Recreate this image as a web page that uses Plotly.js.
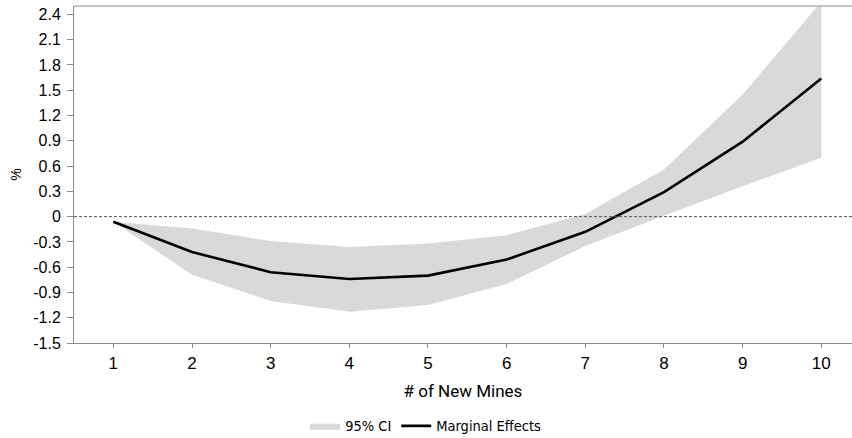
<!DOCTYPE html>
<html>
<head>
<meta charset="utf-8">
<script src="https://cdn.plot.ly/plotly-3.0.1.min.js"></script>
<style>html,body{margin:0;padding:0;background:#fff}#chart{width:852px;height:438px}</style>
</head>
<body>
<div id="chart"></div>
<script>
const mines = [1, 2, 3, 4, 5, 6, 7, 8, 9, 10];
const marginal = [-0.06, -0.42, -0.66, -0.74, -0.70, -0.51, -0.18, 0.29, 0.89, 1.64];
const ciUpper = [-0.06, -0.14, -0.29, -0.36, -0.32, -0.22, 0.03, 0.56, 1.45, 2.55];
const ciLower = [-0.06, -0.69, -1.00, -1.13, -1.05, -0.80, -0.35, 0.01, 0.36, 0.70];
const yTicks = [-1.5, -1.2, -0.9, -0.6, -0.3, 0, 0.3, 0.6, 0.9, 1.2, 1.5, 1.8, 2.1, 2.4];
const yTickText = ['-1.5', '-1.2', '-0.9', '-0.6', '-0.3', '0', '0.3', '0.6', '0.9', '1.2', '1.5', '1.8', '2.1', '2.4'];

const condensed = 'DejaVu Sans Condensed, Liberation Sans Narrow, Arial Narrow, sans-serif';

const traces = [
  {x: mines, y: ciLower, mode: 'lines', line: {width: 0, color: '#d9d9d9'}, showlegend: false, hoverinfo: 'skip'},
  {x: mines, y: ciUpper, mode: 'lines', fill: 'tonexty', fillcolor: '#d9d9d9', line: {width: 0, color: '#d9d9d9'}, name: '95% CI'},
  {x: mines, y: marginal, mode: 'lines', line: {width: 2.6, color: '#000000'}, name: 'Marginal Effects'}
];

const layout = {
  width: 852, height: 438,
  margin: {l: 74, r: 0, t: 6, b: 95, autoexpand: false},
  paper_bgcolor: '#ffffff', plot_bgcolor: '#ffffff',
  font: {family: 'Liberation Sans, Arial, sans-serif', size: 14, color: '#000'},
  xaxis: {
    range: [0.5, 10.39], tickvals: mines, ticktext: mines.map(String),
    showgrid: false, zeroline: false, showline: true, linecolor: '#8c8c8c', linewidth: 1,
    ticks: 'outside', ticklen: 4, tickcolor: '#8c8c8c', automargin: false,
    tickfont: {family: 'Liberation Sans, Arial, sans-serif', size: 17},
    ticklabelstandoff: 1,
    title: {text: '# of New Mines', font: {family: 'Roboto, Liberation Sans, sans-serif', size: 17}, standoff: 12}
  },
  yaxis: {
    range: [-1.5, 2.5], tickvals: yTicks, ticktext: yTickText,
    showgrid: false, zeroline: false, showline: true, linecolor: '#8c8c8c', linewidth: 1,
    ticks: 'outside', ticklen: 6, tickcolor: '#8c8c8c', automargin: false,
    tickfont: {family: 'Liberation Sans, Arial, sans-serif', size: 16},
    ticklabelstandoff: 3,
    title: {text: '%', font: {family: 'Liberation Sans, Arial, sans-serif', size: 14}, standoff: 8}
  },
  shapes: [
    {type: 'line', xref: 'paper', yref: 'y', x0: 0, x1: 1, y0: 0, y1: 0, line: {color: '#555', width: 1, dash: '3px,2px'}},
    {type: 'line', xref: 'paper', yref: 'paper', x0: 0, x1: 1, y0: 1, y1: 1, line: {color: '#8c8c8c', width: 1}}
  ],
  showlegend: true,
  legend: {
    orientation: 'h', traceorder: 'normal', x: 0.452, xanchor: 'center', y: -0.246, yanchor: 'middle',
    font: {family: condensed, size: 14.5},
    itemwidth: 30, tracegroupgap: 0
  }
};

Plotly.newPlot('chart', traces, layout, {displayModeBar: false, staticPlot: true});
</script>
</body>
</html>
